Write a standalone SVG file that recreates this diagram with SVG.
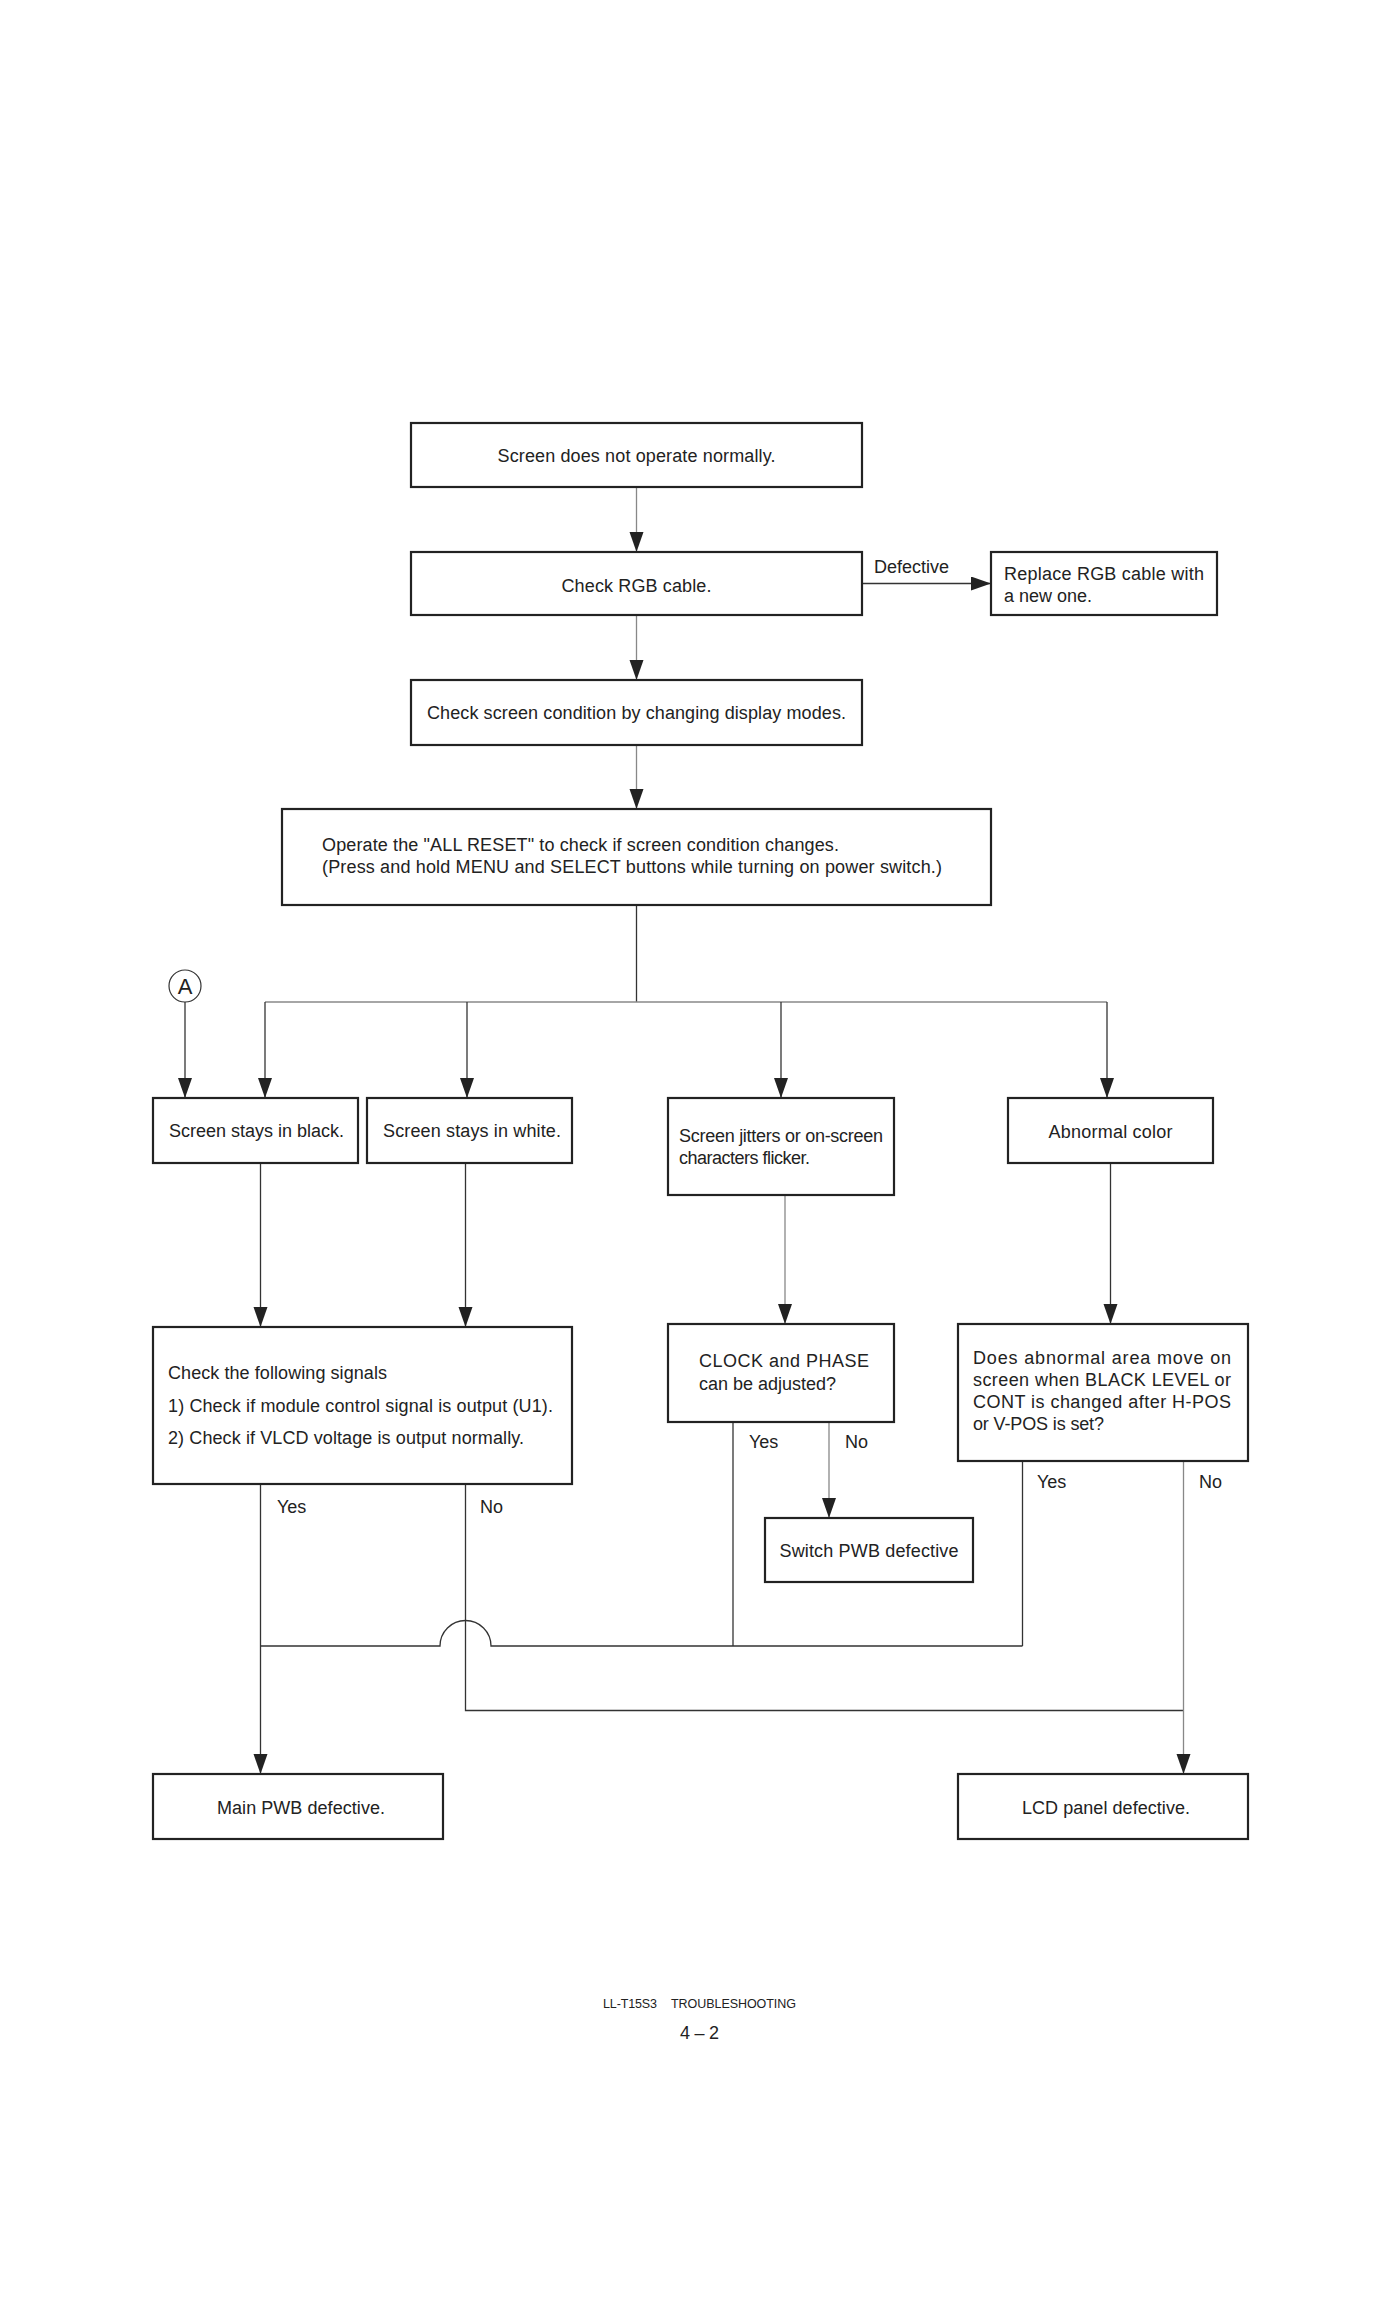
<svg xmlns="http://www.w3.org/2000/svg" width="1400" height="2306" viewBox="0 0 1400 2306">
<style>
.box{fill:#fff;stroke:#222;stroke-width:2.2}
.t{font-family:"Liberation Sans",Arial,sans-serif;font-size:18px;fill:#222}
.tm{text-anchor:middle}
.c{fill:none;stroke:#888;stroke-width:1.3}
.d{fill:none;stroke:#333;stroke-width:1.3}
.f{font-family:"Liberation Sans",Arial,sans-serif;fill:#222}
</style>
<defs>
<marker id="ah" markerUnits="userSpaceOnUse" markerWidth="22" markerHeight="16" refX="20" refY="7" orient="auto">
<path d="M0,0 L20,7 L0,14 z" fill="#222"/>
</marker>
</defs>
<rect width="1400" height="2306" fill="#fff"/>

<g id="connectors">
<line class="c" x1="636.5" y1="487" x2="636.5" y2="552" marker-end="url(#ah)"/>
<line class="c" x1="636.5" y1="615" x2="636.5" y2="680" marker-end="url(#ah)"/>
<line class="d" x1="862" y1="583.5" x2="991" y2="583.5" marker-end="url(#ah)"/>
<line class="c" x1="636.5" y1="745" x2="636.5" y2="809" marker-end="url(#ah)"/>
<line class="d" x1="636.5" y1="905" x2="636.5" y2="1002"/>
<line class="c" x1="265" y1="1002" x2="1107" y2="1002"/>
<line class="d" x1="265" y1="1002" x2="265" y2="1098" marker-end="url(#ah)"/>
<line class="d" x1="467" y1="1002" x2="467" y2="1098" marker-end="url(#ah)"/>
<line class="d" x1="781" y1="1002" x2="781" y2="1098" marker-end="url(#ah)"/>
<line class="d" x1="1107" y1="1002" x2="1107" y2="1098" marker-end="url(#ah)"/>
<line class="d" x1="185" y1="1002" x2="185" y2="1098" marker-end="url(#ah)"/>
<line class="d" x1="260.5" y1="1163" x2="260.5" y2="1327" marker-end="url(#ah)"/>
<line class="d" x1="465.5" y1="1163" x2="465.5" y2="1327" marker-end="url(#ah)"/>
<line class="c" x1="785" y1="1195" x2="785" y2="1324" marker-end="url(#ah)"/>
<line class="d" x1="1110.5" y1="1163" x2="1110.5" y2="1324" marker-end="url(#ah)"/>
<line class="c" x1="829" y1="1422" x2="829" y2="1518" marker-end="url(#ah)"/>
<line class="d" x1="733" y1="1422" x2="733" y2="1646"/>
<line class="d" x1="1022.5" y1="1461" x2="1022.5" y2="1646"/>
<path class="d" d="M260.5,1646 H440 A25.5,25.5 0 0 1 491,1646 H1022.5"/>
<line class="d" x1="260.5" y1="1484" x2="260.5" y2="1774" marker-end="url(#ah)"/>
<path class="d" d="M465.5,1484 V1710.5 H1183.5"/>
<line class="c" x1="1183.5" y1="1461" x2="1183.5" y2="1774" marker-end="url(#ah)"/>
</g>

<g id="n1"><rect class="box" x="411" y="423" width="451" height="64"/>
<text class="t tm" x="636.5" y="462" textLength="278">Screen does not operate normally.</text></g>

<g id="n2"><rect class="box" x="411" y="552" width="451" height="63"/>
<text class="t tm" x="636.5" y="591.5" textLength="150">Check RGB cable.</text></g>

<g id="lbl-defective"><text class="t" x="874" y="573" textLength="75">Defective</text></g>

<g id="n3"><rect class="box" x="991" y="552" width="226" height="63"/>
<text class="t" x="1004" y="580" textLength="200">Replace RGB cable with</text>
<text class="t" x="1004" y="602" textLength="88">a new one.</text></g>

<g id="n4"><rect class="box" x="411" y="680" width="451" height="65"/>
<text class="t tm" x="636.5" y="719" textLength="419">Check screen condition by changing display modes.</text></g>

<g id="n5"><rect class="box" x="282" y="809" width="709" height="96"/>
<text class="t" x="322" y="851" textLength="517">Operate the "ALL RESET" to check if screen condition changes.</text>
<text class="t" x="322" y="873" textLength="620">(Press and hold MENU and SELECT buttons while turning on power switch.)</text></g>

<g id="nA"><circle cx="185" cy="986" r="16" fill="#fff" stroke="#333" stroke-width="1.2"/>
<text class="f" x="185" y="994" font-size="22" text-anchor="middle">A</text></g>

<g id="n6"><rect class="box" x="153" y="1098" width="205" height="65"/>
<text class="t" x="169" y="1137" textLength="175">Screen stays in black.</text></g>

<g id="n7"><rect class="box" x="367" y="1098" width="205" height="65"/>
<text class="t" x="383" y="1137" textLength="178">Screen stays in white.</text></g>

<g id="n8"><rect class="box" x="668" y="1098" width="226" height="97"/>
<text class="t" x="679" y="1142" textLength="204">Screen jitters or on-screen</text>
<text class="t" x="679" y="1164" textLength="131">characters flicker.</text></g>

<g id="n9"><rect class="box" x="1008" y="1098" width="205" height="65"/>
<text class="t tm" x="1110.5" y="1138" textLength="124">Abnormal color</text></g>

<g id="n10"><rect class="box" x="153" y="1327" width="419" height="157"/>
<text class="t" x="168" y="1379" textLength="219">Check the following signals</text>
<text class="t" x="168" y="1412" textLength="385">1) Check if module control signal is output (U1).</text>
<text class="t" x="168" y="1444" textLength="356">2) Check if VLCD voltage is output normally.</text></g>

<g id="n11"><rect class="box" x="668" y="1324" width="226" height="98"/>
<text class="t" x="699" y="1367" textLength="170">CLOCK and PHASE</text>
<text class="t" x="699" y="1390" textLength="137">can be adjusted?</text></g>

<g id="n12"><rect class="box" x="958" y="1324" width="290" height="137"/>
<text class="t" x="973" y="1364" textLength="258">Does abnormal area move on</text>
<text class="t" x="973" y="1386" textLength="258">screen when BLACK LEVEL or</text>
<text class="t" x="973" y="1408" textLength="258">CONT is changed after H-POS</text>
<text class="t" x="973" y="1430" textLength="131">or V-POS is set?</text></g>

<g id="labels">
<text class="t" x="749" y="1448">Yes</text>
<text class="t" x="845" y="1448">No</text>
<text class="t" x="1037" y="1488">Yes</text>
<text class="t" x="1199" y="1488">No</text>
<text class="t" x="277" y="1513">Yes</text>
<text class="t" x="480" y="1513">No</text>
</g>

<g id="n13"><rect class="box" x="765" y="1518" width="208" height="64"/>
<text class="t tm" x="869" y="1557" textLength="179">Switch PWB defective</text></g>

<g id="n14"><rect class="box" x="153" y="1774" width="290" height="65"/>
<text class="t tm" x="301" y="1814" textLength="168">Main PWB defective.</text></g>

<g id="n15"><rect class="box" x="958" y="1774" width="290" height="65"/>
<text class="t tm" x="1106" y="1814" textLength="168">LCD panel defective.</text></g>

<g id="footer">
<text class="f" x="603" y="2008" font-size="12.5" textLength="54">LL-T15S3</text>
<text class="f" x="671" y="2008" font-size="12.5" textLength="125">TROUBLESHOOTING</text>
<text class="f" x="680" y="2039" font-size="18" textLength="39">4 – 2</text>
</g>
</svg>
